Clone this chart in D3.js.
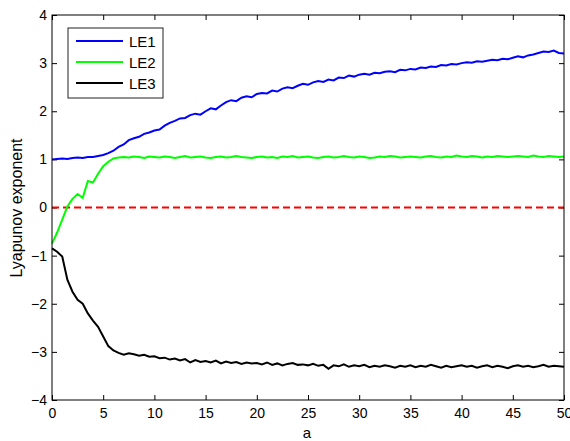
<!DOCTYPE html>
<html>
<head>
<meta charset="utf-8">
<script src="https://cdn.jsdelivr.net/npm/d3@7"></script>
<style>
body { margin: 0; background: #fff; }
text { font-family: "Liberation Sans", Arial, sans-serif; }
</style>
</head>
<body>
<svg id="plot"></svg>
<script>
var aStep = 0.5

var le1 = [
    1.00,1.01,1.02,1.01,1.03,1.04,1.03,1.05,1.05,1.07,
    1.09,1.13,1.18,1.26,1.31,1.40,1.44,1.47,1.53,1.56,
    1.60,1.62,1.70,1.76,1.80,1.85,1.86,1.92,1.95,1.93,
    2.00,2.06,2.04,2.12,2.19,2.23,2.21,2.28,2.31,2.29,
    2.36,2.38,2.37,2.43,2.41,2.47,2.50,2.48,2.53,2.57,
    2.55,2.60,2.63,2.61,2.66,2.64,2.70,2.69,2.74,2.72,
    2.76,2.78,2.76,2.80,2.79,2.82,2.83,2.81,2.86,2.85,
    2.88,2.87,2.91,2.90,2.93,2.92,2.96,2.95,2.98,2.97,
    3.00,3.02,3.01,3.04,3.03,3.05,3.07,3.06,3.09,3.08,
    3.11,3.14,3.12,3.16,3.18,3.21,3.24,3.23,3.26,3.21,
    3.20
]

var le2 = [
    -0.75,-0.52,-0.25,0.02,0.18,0.28,0.20,0.55,0.52,0.70,
    0.86,0.95,1.02,1.04,1.05,1.04,1.06,1.05,1.03,1.06,
    1.05,
    1.04,1.06,1.05,1.03,1.05,1.07,1.04,1.05,1.06,1.04,
    1.03,1.05,1.06,1.04,1.05,1.07,1.05,1.04,1.03,1.05,
    1.06,1.04,1.05,1.03,1.06,1.05,1.07,1.04,1.05,1.06,
    1.04,1.03,1.05,1.06,1.04,1.05,1.07,1.05,1.04,1.06,
    1.05,1.03,1.04,1.06,1.05,1.07,1.06,1.04,1.05,1.06,
    1.05,1.04,1.06,1.07,1.05,1.04,1.06,1.05,1.08,1.06,
    1.05,1.07,1.06,1.04,1.06,1.05,1.07,1.06,1.05,1.06,
    1.07,1.06,1.05,1.08,1.06,1.05,1.07,1.06,1.05,1.06
]

var le3 = [
    -0.85,-0.92,-1.02,-1.50,-1.75,-1.92,-2.00,-2.20,-2.35,-2.48,
    -2.68,-2.88,-2.97,-3.02,-3.06,-3.03,-3.05,-3.08,-3.06,-3.10,
    -3.09,-3.13,-3.12,-3.16,-3.14,-3.18,-3.15,-3.22,-3.17,-3.21,
    -3.19,
    -3.22,-3.18,-3.24,-3.20,-3.23,-3.21,-3.25,-3.22,-3.24,-3.23,
    -3.26,-3.22,-3.27,-3.24,-3.28,-3.25,-3.23,-3.27,-3.26,-3.28,
    -3.25,-3.29,-3.27,-3.35,-3.28,-3.30,-3.26,-3.31,-3.28,-3.30,
    -3.27,-3.32,-3.29,-3.31,-3.28,-3.30,-3.33,-3.29,-3.31,-3.28,
    -3.32,-3.29,-3.31,-3.27,-3.30,-3.33,-3.29,-3.32,-3.30,-3.28,
    -3.31,-3.29,-3.33,-3.30,-3.28,-3.32,-3.29,-3.31,-3.34,-3.30,
    -3.28,-3.31,-3.29,-3.32,-3.30,-3.27,-3.31,-3.29,-3.30,-3.31
]

var seriesNames = ["LE1","LE2","LE3"]
var seriesColors = ["#0000ff","#00ff00","#000000"]
var xTicks = [0,5,10,15,20,25,30,35,40,45,50]
var yTicks = [-4,-3,-2,-1,0,1,2,3,4]

var screen = {width:570, height:441}
var margins = {top:15, bottom:41, left:52, right:6}
var graph = {
    width:screen.width-margins.left-margins.right,
    height:screen.height-margins.top-margins.bottom
}

var svg = d3.select("#plot")
    .attr("width",screen.width)
    .attr("height",screen.height)

var g = svg.append("g")
    .attr("transform","translate("+margins.left+","+margins.top+")")

var xScale = d3.scaleLinear().domain([0,50]).range([0,graph.width])
var yScale = d3.scaleLinear().domain([-4,4]).range([graph.height,0])

var styleAxis = function(sel)
{
    sel.select(".domain").remove()
    sel.selectAll("line").attr("stroke","#000")
    sel.selectAll("text")
        .attr("font-size","14px")
        .attr("fill","#000")
}

// bottom and left axes with inward ticks (MATLAB style)
g.append("g")
    .attr("transform","translate(0,"+graph.height+")")
    .call(d3.axisBottom(xScale).tickValues(xTicks).tickSizeInner(-5).tickSizeOuter(0).tickPadding(8))
    .call(styleAxis)

g.append("g")
    .call(d3.axisLeft(yScale).tickValues(yTicks).tickSizeInner(-5).tickSizeOuter(0).tickPadding(5))
    .call(styleAxis)

g.append("g")
    .call(d3.axisTop(xScale).tickValues(xTicks).tickSizeInner(-5).tickSizeOuter(0).tickFormat(""))
    .call(styleAxis)

g.append("g")
    .attr("transform","translate("+graph.width+",0)")
    .call(d3.axisRight(yScale).tickValues(yTicks).tickSizeInner(-5).tickSizeOuter(0).tickFormat(""))
    .call(styleAxis)

// zero line
g.append("line")
    .attr("x1",xScale(0)).attr("x2",xScale(50))
    .attr("y1",yScale(0)).attr("y2",yScale(0))
    .attr("stroke","#ff0000")
    .attr("stroke-width",2)
    .attr("stroke-dasharray","7,4")

var line = d3.line()
    .x(function(d,i){ return xScale(i*aStep) })
    .y(function(d){ return yScale(d) })

var allSeries = [le1,le2,le3]

g.selectAll("path.series")
    .data(allSeries)
    .enter()
    .append("path")
    .classed("series",true)
    .attr("d",line)
    .attr("fill","none")
    .attr("stroke",function(d,i){ return seriesColors[i] })
    .attr("stroke-width",2)

// frame
g.append("rect")
    .attr("width",graph.width)
    .attr("height",graph.height)
    .attr("fill","none")
    .attr("stroke","#000")
    .attr("stroke-width",1)

// legend
var legend = svg.append("g").attr("transform","translate(68,28)")
legend.append("rect")
    .attr("width",95).attr("height",70)
    .attr("fill","#fff")
    .attr("stroke","#222")
    .attr("stroke-width",1)

var items = legend.selectAll("g.item")
    .data(seriesNames)
    .enter()
    .append("g")
    .attr("transform",function(d,i){ return "translate(0,"+(13+i*21)+")" })

items.append("line")
    .attr("x1",8).attr("x2",55)
    .attr("stroke",function(d,i){ return seriesColors[i] })
    .attr("stroke-width",2)

items.append("text")
    .attr("x",61).attr("y",5.5)
    .attr("font-size","15px")
    .text(function(d){ return d })

// axis labels
svg.append("text")
    .attr("x",307)
    .attr("y",438)
    .attr("text-anchor","middle")
    .attr("font-size","15px")
    .text("a")

svg.append("text")
    .attr("transform","translate(22,"+208+") rotate(-90)")
    .attr("text-anchor","middle")
    .attr("font-size","16px")
    .text("Lyapunov exponent")
</script>
</body>
</html>
